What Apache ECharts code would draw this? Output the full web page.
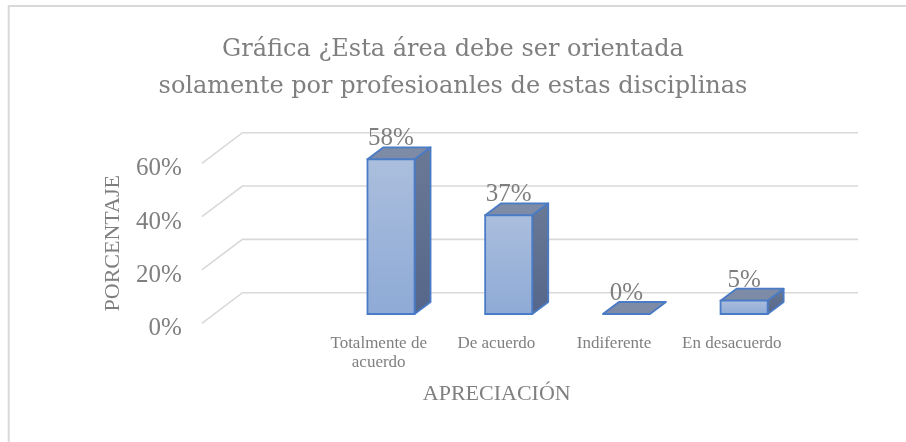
<!DOCTYPE html>
<html>
<head>
<meta charset="utf-8">
<script src="https://cdn.jsdelivr.net/npm/echarts@6/dist/echarts.min.js"></script>
<style>
  html, body { margin: 0; padding: 0; background: #fff; }
  #chart { width: 906px; height: 442px; }
</style>
</head>
<body>
<div id="chart"></div>
<script>
const titleLines = ['Gráfica ¿Esta área debe ser orientada', 'solamente por profesioanles de estas disciplinas'];
const categories = ['Totalmente de\nacuerdo', 'De acuerdo', 'Indiferente', 'En desacuerdo'];
const values = [58, 37, 0, 5];
const yTicks = [0, 20, 40, 60];

const FONT = '"Liberation Serif", "DejaVu Serif", serif';
const TITLE_FONT = '"DejaVu Serif", "Liberation Serif", serif';
const GRAY = '#7f7f7f';

// perspective offsets (px) relative to the front edge plane
const BAR_FRONT = [12.3, -9.3];
const BAR_DEPTH = [16, -12];
const WALL_DEPTH = [40.6, -30.6];
const WALL_LEFT = -118;
const WALL_RIGHT = 26.8;

const chart = echarts.init(document.getElementById('chart'));

const renderGrid = (params, api) => {
  const cs = params.coordSys;
  const y = api.coord([0, api.value(1)])[1];
  const xl = cs.x + WALL_LEFT;
  const xr = cs.x + cs.width + WALL_RIGHT;
  return {
    type: 'polyline',
    shape: { points: [[xl, y], [xl + WALL_DEPTH[0], y + WALL_DEPTH[1]], [xr + WALL_DEPTH[0], y + WALL_DEPTH[1]]] },
    style: { stroke: '#d9d9d9', lineWidth: 1.6, fill: null }
  };
};

const renderBar = (params, api) => {
  const v = api.value(1);
  const base = api.coord([api.value(0), 0]);
  const top = api.coord([api.value(0), v]);
  const w = api.size([1, 0])[0] * 0.4;
  const x0 = base[0] - w / 2 + BAR_FRONT[0];
  const x1 = x0 + w;
  const yb = base[1] + BAR_FRONT[1];
  const yt = top[1] + BAR_FRONT[1];
  const dx = BAR_DEPTH[0], dy = BAR_DEPTH[1];
  const stroke = '#4a7bc6';
  const children = [];
  if (yb - yt > 0.5) {
    children.push({
      type: 'polygon',
      shape: { points: [[x1, yt], [x1 + dx, yt + dy], [x1 + dx, yb + dy], [x1, yb]] },
      style: {
        fill: new echarts.graphic.LinearGradient(0, 0, 0, 1, [
          { offset: 0, color: '#6a7995' }, { offset: 1, color: '#54668a' }
        ]),
        stroke: stroke, lineWidth: 1.8, lineJoin: 'round'
      }
    });
  }
  children.push({
    type: 'polygon',
    shape: { points: [[x0, yt], [x1, yt], [x1 + dx, yt + dy], [x0 + dx, yt + dy]] },
    style: { fill: '#7d8ba6', stroke: stroke, lineWidth: 1.8, lineJoin: 'round' }
  });
  if (yb - yt > 0.5) {
    children.push({
      type: 'rect',
      shape: { x: x0, y: yt, width: w, height: yb - yt },
      style: {
        fill: new echarts.graphic.LinearGradient(0, 0, 0, 1, [
          { offset: 0, color: '#abbedd' }, { offset: 1, color: '#8eaad6' }
        ]),
        stroke: stroke, lineWidth: 1.8
      }
    });
  }
  children.push({
    type: 'text',
    style: {
      text: v + '%', x: x0 + w / 2, y: yt + dy + 4,
      align: 'center', verticalAlign: 'bottom',
      font: '25px ' + FONT, fill: GRAY
    }
  });
  return { type: 'group', children: children };
};

const option = {
  animation: false,
  backgroundColor: '#fff',
  graphic: [{
    type: 'rect',
    shape: { x: 8.7, y: 5.9, width: 2000, height: 2000 },
    style: { fill: null, stroke: '#d9d9d9', lineWidth: 2 }
  }],
  title: {
    text: titleLines.join('\n'),
    left: 'center',
    top: 26,
    textStyle: { fontFamily: TITLE_FONT, fontSize: 24, fontWeight: 'normal', color: GRAY, lineHeight: 37 }
  },
  grid: { left: 319.85, width: 470.8, top: 163.3, height: 160 },
  xAxis: {
    type: 'category',
    data: categories,
    axisLine: { show: false },
    axisTick: { show: false },
    axisLabel: { interval: 0, margin: 11, fontFamily: FONT, fontSize: 17, color: GRAY, lineHeight: 19 },
    name: 'APRECIACIÓN',
    nameLocation: 'middle',
    nameGap: 60,
    nameTextStyle: { fontFamily: FONT, fontSize: 22, color: GRAY, padding: [0, 117, 0, 0] }
  },
  yAxis: {
    type: 'value',
    min: 0,
    max: 60,
    interval: 20,
    splitLine: { show: false },
    axisLine: { show: false },
    axisTick: { show: false },
    axisLabel: {
      margin: 138, formatter: '{value}%', fontFamily: FONT, fontSize: 25, color: GRAY,
      verticalAlign: 'top', lineHeight: 11
    },
    name: 'PORCENTAJE',
    nameLocation: 'middle',
    nameRotate: 90,
    nameGap: 196,
    nameTextStyle: { fontFamily: FONT, fontSize: 22, color: GRAY }
  },
  series: [
    {
      type: 'custom',
      renderItem: renderGrid,
      data: yTicks.map(t => [0, t]),
      z: 1,
      silent: true
    },
    {
      type: 'custom',
      renderItem: renderBar,
      data: values.map((v, i) => [i, v]),
      z: 2
    }
  ]
};

chart.setOption(option);
</script>
</body>
</html>
